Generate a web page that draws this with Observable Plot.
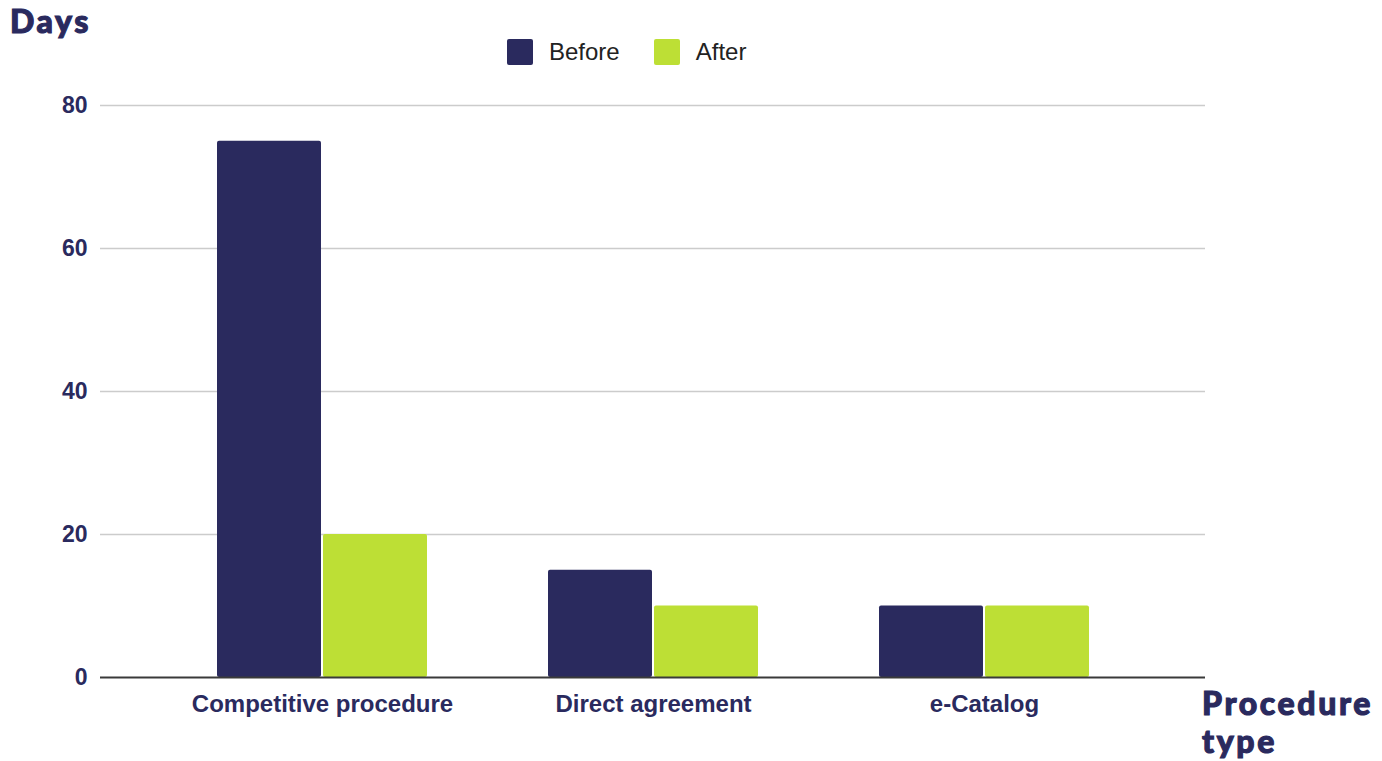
<!DOCTYPE html>
<html>
<head>
<meta charset="utf-8">
<script src="https://cdn.jsdelivr.net/npm/d3@7"></script>
<script src="https://cdn.jsdelivr.net/npm/@observablehq/plot@0.6"></script>
<style>
  html, body { margin: 0; padding: 0; background: #fff; }
  #wrap { position: relative; width: 1382px; height: 761px; overflow: hidden; }
  .title { position: absolute; font-family: "Lato", "Open Sans", sans-serif; font-weight: 900; color: #2a2a5e; font-size: 32px; letter-spacing: 2.6px; line-height: 38px; white-space: nowrap; -webkit-text-stroke: 1.1px #2a2a5e; }
  #legend { position: absolute; left: 507px; top: 38px; display: flex; align-items: center; font-family: "Liberation Sans", Arial, sans-serif; font-size: 24px; color: #222; }
  #legend .sw { width: 26px; height: 26px; border-radius: 2px; display: inline-block; }
  #legend .lab { margin-left: 16px; margin-right: 34px; }
  #chart { position: absolute; left: 0; top: 0; }
  #chart svg text { font-family: "Liberation Sans", Arial, sans-serif; font-weight: bold; }
</style>
</head>
<body>
<div id="wrap">
  <div id="chart"></div>
  <div class="title" style="left:10px; top:2px;">Days</div>
  <div class="title" id="xtitle" style="left:1202px; top:684px;">Procedure<br>type</div>
  <div id="legend"></div>
</div>
<script>
const categories = ["Competitive procedure", "Direct agreement", "e-Catalog"];
const series = ["Before", "After"];
const beforeValues = [75, 15, 10];
const afterValues = [20, 10, 10];
const yTicks = [0, 20, 40, 60, 80];
const colors = { Before: "#2a2a5e", After: "#bddf35" };

const beforeData = categories.map((c, i) => ({ category: c, series: "Before", value: beforeValues[i] }));
const afterData = categories.map((c, i) => ({ category: c, series: "After", value: afterValues[i] }));

// legend
const legend = document.getElementById("legend");
series.forEach(s => {
  const sw = document.createElement("span");
  sw.className = "sw";
  sw.style.background = colors[s];
  const lab = document.createElement("span");
  lab.className = "lab";
  lab.textContent = s;
  legend.appendChild(sw);
  legend.appendChild(lab);
});

const half = 106;
const chart = Plot.plot({
  width: 1382,
  height: 761,
  marginTop: 105,
  marginBottom: 84,
  marginLeft: 100,
  marginRight: 177,
  style: { color: "#2a2a5e", background: "transparent" },
  x: { domain: categories, paddingInner: 0.367, paddingOuter: 0.352, label: null },
  y: { domain: [0, 80], label: null },
  marks: [
    Plot.ruleY(yTicks.filter(d => d !== 0), { stroke: "#cccccc", strokeWidth: 1.5, strokeOpacity: 1 }),
    Plot.barY(beforeData, { x: "category", y: "value", fill: colors.Before, insetRight: half, rx: 2 }),
    Plot.barY(afterData, { x: "category", y: "value", fill: colors.After, insetLeft: half, rx: 2 }),
    Plot.ruleY([0], { stroke: "#3a3a3a", strokeWidth: 2 }),
    Plot.axisY({ ticks: yTicks, tickSize: 0, tickPadding: 13, fontSize: 23, label: null }),
    Plot.axisX({ tickSize: 0, tickPadding: 17, fontSize: 24, label: null })
  ]
});
document.getElementById("chart").appendChild(chart);
</script>
</body>
</html>
